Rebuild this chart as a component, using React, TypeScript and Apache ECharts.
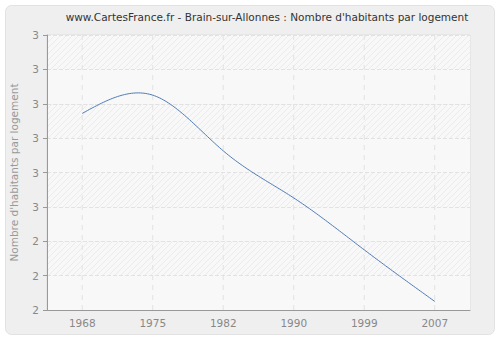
import React, { useEffect, useRef } from "react";
import * as echarts from "echarts";

const years = ["1968", "1975", "1982", "1990", "1999", "2007"];
const values = [2.772, 2.825, 2.663, 2.526, 2.375, 2.225];
const yMin = 2.2;
const yMax = 3.0;
const titleText = "www.CartesFrance.fr - Brain-sur-Allonnes : Nombre d'habitants par logement";
const yAxisName = "Nombre d'habitants par logement";

function naturalSpline(pts: number[][], steps: number): number[][] {
  const n = pts.length;
  if (n < 3) return pts;
  // parametrize on x (equally spaced for category axis)
  const xs = pts.map((p) => p[0]);
  const ys = pts.map((p) => p[1]);
  const h: number[] = [];
  for (let i = 0; i < n - 1; i++) h.push(xs[i + 1] - xs[i]);
  const M = new Array(n).fill(0);
  const a: number[] = [], b: number[] = [], c: number[] = [], d: number[] = [];
  for (let i = 1; i < n - 1; i++) {
    a.push(h[i - 1]);
    b.push(2 * (h[i - 1] + h[i]));
    c.push(h[i]);
    d.push(6 * ((ys[i + 1] - ys[i]) / h[i] - (ys[i] - ys[i - 1]) / h[i - 1]));
  }
  const m = b.length;
  const cp = new Array(m).fill(0);
  const dp = new Array(m).fill(0);
  cp[0] = c[0] / b[0];
  dp[0] = d[0] / b[0];
  for (let i = 1; i < m; i++) {
    const den = b[i] - a[i] * cp[i - 1];
    cp[i] = c[i] / den;
    dp[i] = (d[i] - a[i] * dp[i - 1]) / den;
  }
  const sol = new Array(m).fill(0);
  sol[m - 1] = dp[m - 1];
  for (let i = m - 2; i >= 0; i--) sol[i] = dp[i] - cp[i] * sol[i + 1];
  for (let i = 0; i < m; i++) M[i + 1] = sol[i];
  const out: number[][] = [];
  for (let i = 0; i < n - 1; i++) {
    for (let s = 0; s <= steps; s++) {
      if (i > 0 && s === 0) continue;
      const t = s / steps;
      const hi = h[i];
      const x = xs[i] + t * hi;
      const A = 1 - t;
      const B = t;
      const y =
        A * ys[i] +
        B * ys[i + 1] +
        (((A * A * A - A) * M[i] + (B * B * B - B) * M[i + 1]) * hi * hi) / 6;
      out.push([x, y]);
    }
  }
  return out;
}

function makeHatch(): HTMLCanvasElement {
  const cv = document.createElement("canvas");
  cv.width = 6;
  cv.height = 6;
  const ctx = cv.getContext("2d")!;
  ctx.fillStyle = "#f8f8f8";
  ctx.fillRect(0, 0, 6, 6);
  ctx.strokeStyle = "#ebebeb";
  ctx.lineWidth = 1;
  ctx.beginPath();
  ctx.moveTo(-1, 7);
  ctx.lineTo(7, -1);
  ctx.moveTo(-4, 4);
  ctx.lineTo(4, -4);
  ctx.moveTo(2, 10);
  ctx.lineTo(10, 2);
  ctx.stroke();
  return cv;
}

export default function App() {
  const ref = useRef<HTMLDivElement>(null);
  useEffect(() => {
    if (!ref.current) return;
    const chart = echarts.init(ref.current, null, { renderer: "svg" });
    const hatch = makeHatch();
    chart.setOption({
      animation: false,
      textStyle: { fontFamily: "DejaVu Sans" },
      graphic: [
        {
          type: "rect",
          z: -10,
          shape: { x: 5.5, y: 5.5, width: 489, height: 329, r: 6 },
          style: { fill: "#efefef", stroke: "#e2e2e2", lineWidth: 1 },
        },
        {
          type: "text",
          x: 267,
          y: 17,
          style: {
            text: titleText,
            fill: "#333333",
            font: "10.5px 'DejaVu Sans'",
            textAlign: "center",
            textVerticalAlign: "middle",
          },
        },
      ],
      grid: {
        left: 40,
        right: 30,
        top: 35,
        height: 275,
        show: true,
        backgroundColor: "#f8f8f8",
        borderColor: "#dddddd",
        borderWidth: 1,
      },
      xAxis: {
        type: "category",
        data: years,
        boundaryGap: true,
        axisLine: { lineStyle: { color: "#999999" } },
        axisTick: { alignWithLabel: true, length: 4, lineStyle: { color: "#999999" } },
        axisLabel: { color: "#888888", fontSize: 10.5, margin: 7 },
        splitLine: { show: false },
      },
      yAxis: {
        type: "value",
        min: yMin,
        max: yMax,
        interval: 0.1,
        name: yAxisName,
        nameLocation: "middle",
        nameGap: 28,
        nameTextStyle: { color: "#999999", fontSize: 10.5 },
        axisLine: { show: true, lineStyle: { color: "#999999" } },
        axisTick: { show: true, length: 4, lineStyle: { color: "#999999" } },
        axisLabel: {
          color: "#888888",
          fontSize: 10.5,
          margin: 8,
          formatter: (v: number) => String(Math.round(v)),
        },
        splitArea: {
          show: true,
          areaStyle: {
            color: ["#f8f8f8", { image: hatch, repeat: "repeat" }],
          },
        },
        splitLine: { show: true, lineStyle: { color: "#e2e2e2", type: "dashed" } },
      },
      series: [
        {
          type: "custom",
          data: values.map((v, i) => [i, v]),
          encode: { x: 0, y: 1 },
          clip: false,
          z: 3,
          renderItem: (params: any, api: any) => {
            const idx = params.dataIndex;
            const top = api.coord([idx, yMax]);
            const bottom = api.coord([idx, yMin]);
            const children: any[] = [
              {
                type: "line",
                z2: 1,
                shape: { x1: top[0], y1: top[1], x2: bottom[0], y2: bottom[1] },
                style: { stroke: "#e2e2e2", lineWidth: 1, lineDash: [5, 5] },
              },
            ];
            if (idx === 0) {
              const px = values.map((v, i) => api.coord([i, v]));
              const curve = naturalSpline(px, 40);
              children.push({
                type: "polyline",
                z2: 10,
                shape: { points: curve },
                style: { stroke: "#4f7bb5", lineWidth: 1, fill: "none" },
              });
            }
            return { type: "group", children };
          },
        },
      ],
    });
    return () => chart.dispose();
  }, []);
  return (
    <div
      ref={ref}
      style={{ position: "fixed", left: 0, top: 0, width: 500, height: 340, background: "#ffffff" }}
    />
  );
}
